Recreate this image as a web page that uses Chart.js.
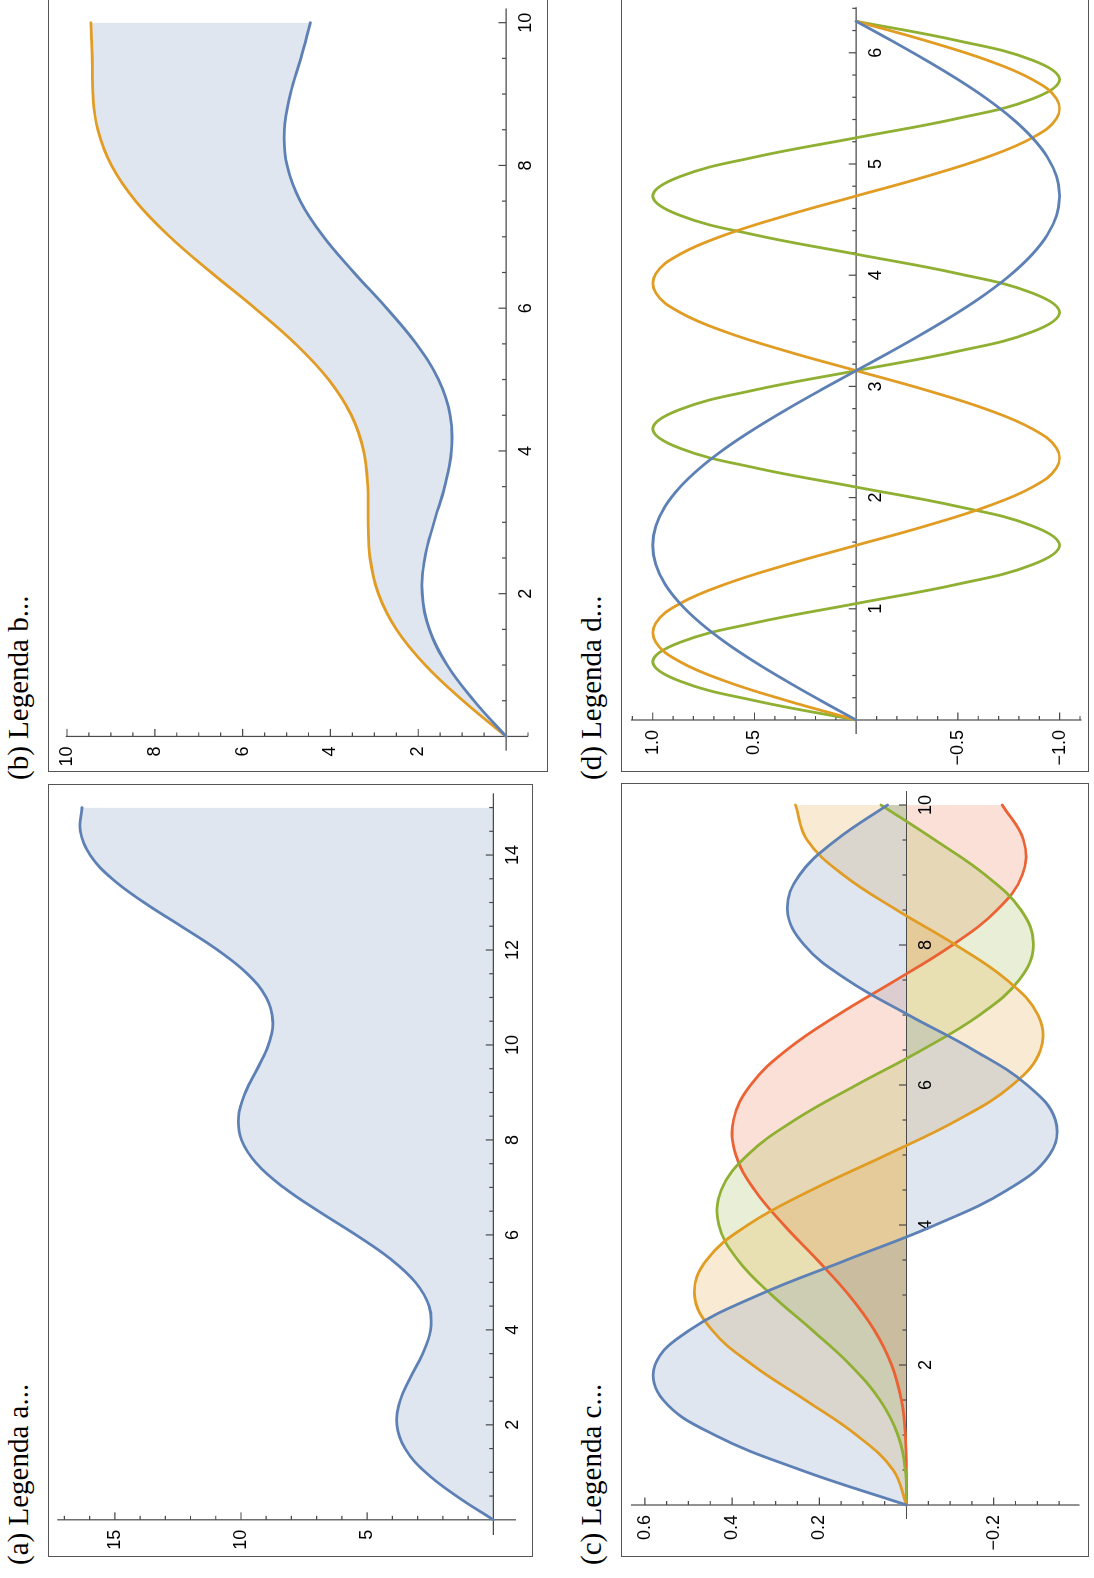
<!DOCTYPE html>
<html>
<head>
<meta charset="utf-8">
<script src="https://cdn.jsdelivr.net/npm/chart.js@4"></script>
<style>
html,body{margin:0;padding:0;background:#fff;overflow:hidden;width:1094px;height:1578px;}
#page{position:absolute;left:0;top:0;width:1578px;height:1094px;transform-origin:0 0;transform:translate(0,1578px) rotate(-90deg);background:#fff;overflow:hidden;}
.panel{position:absolute;}
.panel canvas{position:absolute;left:0;top:0;}
.frame{position:absolute;left:0;top:0;width:100%;height:100%;border:1.5px solid #555;box-sizing:border-box;pointer-events:none;}
.cap{position:absolute;font-family:"Liberation Serif","Times New Roman",serif;font-size:29px;line-height:29px;white-space:nowrap;color:#000;}
</style>
</head>
<body>
<div id="page">
  <div class="cap" style="left:13px;top:4px">(a) Legenda a...</div>
  <div class="cap" style="left:798px;top:4px">(b) Legenda b...</div>
  <div class="cap" style="left:13px;top:577px">(c) Legenda c...</div>
  <div class="cap" style="left:798px;top:577px">(d) Legenda d...</div>
  <div class="panel" style="left:21px;top:48px;width:773px;height:485px"><canvas id="ca" width="773" height="485"></canvas><div class="frame"></div></div>
  <div class="panel" style="left:806px;top:48px;width:774px;height:500px"><canvas id="cb" width="774" height="500"></canvas><div class="frame"></div></div>
  <div class="panel" style="left:21px;top:621px;width:774px;height:468px"><canvas id="cc" width="774" height="468"></canvas><div class="frame"></div></div>
  <div class="panel" style="left:806px;top:621px;width:774px;height:468px"><canvas id="cd" width="774" height="468"></canvas><div class="frame"></div></div>
</div>
<script>
// ---------------- data ----------------
// (a)
const A_x = [0,0.5,1,1.5,2,2.5,3,3.5,4,4.5,5,5.5,6,6.5,7,7.5,8,8.5,9,9.5,10,10.5,11,11.5,12,12.5,13,13.5,14,14.5,15];
const A_y = [0,1.459,2.683,3.495,3.819,3.697,3.282,2.798,2.486,2.545,3.082,4.089,5.441,6.930,8.314,9.376,9.979,10.097,9.824,9.350,8.912,8.741,9.000,9.749,10.927,12.367,13.840,15.108,15.981,16.370,16.301];
const A_xTicks = [2,4,6,8,10,12,14];
const A_xLabels = ['2','4','6','8','10','12','14'];
const A_yTicks = [5,10,15];
const A_yLabels = ['5','10','15'];

// (b)
const B_x = [0,0.5,1,1.5,2,2.5,3,3.5,4,4.5,5,5.5,6,6.5,7,7.5,8,8.5,9,9.5,10];
const B_lower = [0,0.729,1.342,1.748,1.909,1.849,1.641,1.399,1.243,1.273,1.541,2.045,2.721,3.465,4.157,4.688,4.989,5.049,4.912,4.675,4.456];
const B_upper = [0,0.979,1.841,2.498,2.909,3.099,3.141,3.149,3.243,3.523,4.041,4.795,5.721,6.715,7.657,8.438,8.989,9.299,9.412,9.425,9.456];
const B_xTicks = [2,4,6,8,10];
const B_xLabels = ['2','4','6','8','10'];
const B_yTicks = [2,4,6,8,10];
const B_yLabels = ['2','4','6','8','10'];

// (c)
const C_x = [0,0.5,1,1.5,2,2.5,3,3.5,4,4.5,5,5.5,6,6.5,7,7.5,8,8.5,9,9.5,10];
const C_s1 = [0,0.2423,0.4401,0.5579,0.5767,0.4971,0.3391,0.1374,-0.0660,-0.2311,-0.3276,-0.3414,-0.2767,-0.1538,-0.0047,0.1352,0.2346,0.2731,0.2453,0.1613,0.0435];
const C_s2 = [0,0.0306,0.1149,0.2321,0.3528,0.4461,0.4861,0.4586,0.3641,0.2178,0.0466,-0.1173,-0.2429,-0.3074,-0.3014,-0.2303,-0.1130,0.0223,0.1448,0.2279,0.2546];
const C_s3 = [0,0.0026,0.0196,0.0610,0.1289,0.2166,0.3091,0.3868,0.4302,0.4247,0.3648,0.2561,0.1148,-0.0353,-0.1676,-0.2581,-0.2911,-0.2626,-0.1809,-0.0652,0.0584];
const C_s4 = [0,0.0002,0.0025,0.0118,0.0340,0.0738,0.1320,0.2044,0.2811,0.3484,0.3912,0.3967,0.3576,0.2748,0.1578,0.0238,-0.1054,-0.2077,-0.2655,-0.2683,-0.2196];
const C_xTicks = [2,4,6,8,10];
const C_xLabels = ['2','4','6','8','10'];
const C_yTicks = [-0.2,0.2,0.4,0.6];
const C_yLabels = ['\u22120.2','0.2','0.4','0.6'];

// (d)
const D_x = [0,0.1745,0.3491,0.5236,0.6981,0.8727,1.0472,1.2217,1.3963,1.5708,1.7453,1.9199,2.0944,2.2689,2.4435,2.6180,2.7925,2.9671,3.1416,3.3161,3.4907,3.6652,3.8397,4.0143,4.1888,4.3633,4.5379,4.7124,4.8869,5.0615,5.2360,5.4105,5.5851,5.7596,5.9341,6.1087,6.2832];
const D_s1 = [0,.174,.342,.5,.643,.766,.866,.940,.985,1,.985,.940,.866,.766,.643,.5,.342,.174,0,-.174,-.342,-.5,-.643,-.766,-.866,-.940,-.985,-1,-.985,-.940,-.866,-.766,-.643,-.5,-.342,-.174,0];
const D_s2 = [0,.342,.643,.866,.985,.985,.866,.643,.342,0,-.342,-.643,-.866,-.985,-.985,-.866,-.643,-.342,0,.342,.643,.866,.985,.985,.866,.643,.342,0,-.342,-.643,-.866,-.985,-.985,-.866,-.643,-.342,0];
const D_s3 = [0,.5,.866,1,.866,.5,0,-.5,-.866,-1,-.866,-.5,0,.5,.866,1,.866,.5,0,-.5,-.866,-1,-.866,-.5,0,.5,.866,1,.866,.5,0,-.5,-.866,-1,-.866,-.5,0];
const D_xTicks = [1,2,3,4,5,6];
const D_xLabels = ['1','2','3','4','5','6'];
const D_yTicks = [-1.0,-0.5,0.5,1.0];
const D_yLabels = ['\u22121.0','\u22120.5','0.5','1.0'];

// ---------------- style ----------------
const BLUE = '#5E81B5', ORANGE = '#E19C24', GREEN = '#8FB032', RED = '#EB6235';
const BLUE_F = 'rgba(94,129,181,0.2)', ORANGE_F = 'rgba(225,156,36,0.2)', GREEN_F = 'rgba(143,176,50,0.2)', RED_F = 'rgba(235,98,53,0.2)';
const AXIS_COLOR = '#4a4a4a';
const TICK_FONT = '18px "Liberation Sans", Arial, sans-serif';
const MAJOR_LEN = 7.5, MINOR_LEN = 4;
const X_LABEL_GAP = 10.5, Y_LABEL_GAP = 10;

function pts(xs, ys){ return xs.map((x,i)=>({x:x, y:ys[i]})); }

function minorList(min, max, step, majors){
  const out = [];
  const s = Math.ceil((min - 1e-9)/step), e = Math.floor((max + 1e-9)/step);
  for (let k = s; k <= e; k++){
    const v = +(k*step).toFixed(6);
    if (Math.abs(v) < 1e-9) continue;
    if (majors.some(m => Math.abs(m - v) < 1e-9)) continue;
    out.push(v);
  }
  return out;
}

const mmaAxes = {
  id: 'mmaAxes',
  beforeDatasetsDraw(chart){
    const o = chart.options.plugins.mmaAxes;
    const ctx = chart.ctx, ca = chart.chartArea;
    const xs = chart.scales.x, ys = chart.scales.y;
    const x0 = xs.getPixelForValue(0), y0 = ys.getPixelForValue(0);
    ctx.save();
    ctx.strokeStyle = AXIS_COLOR;
    ctx.lineWidth = 1.2;
    ctx.beginPath();
    ctx.moveTo(ca.left, y0); ctx.lineTo(ca.right, y0);
    ctx.moveTo(x0, ca.top); ctx.lineTo(x0, ca.bottom);
    o.xTicks.forEach(v => { const p = xs.getPixelForValue(v); ctx.moveTo(p, y0); ctx.lineTo(p, y0 - MAJOR_LEN); });
    minorList(xs.min, xs.max, o.xMinor, o.xTicks).forEach(v => { const p = xs.getPixelForValue(v); ctx.moveTo(p, y0); ctx.lineTo(p, y0 - MINOR_LEN); });
    o.yTicks.forEach(v => { const p = ys.getPixelForValue(v); ctx.moveTo(x0, p); ctx.lineTo(x0 + MAJOR_LEN, p); });
    minorList(ys.min, ys.max, o.yMinor, o.yTicks).forEach(v => { const p = ys.getPixelForValue(v); ctx.moveTo(x0, p); ctx.lineTo(x0 + MINOR_LEN, p); });
    ctx.stroke();
    ctx.fillStyle = '#000';
    ctx.font = TICK_FONT;
    ctx.textAlign = 'center'; ctx.textBaseline = 'top';
    o.xTicks.forEach((v,i) => ctx.fillText(o.xLabels[i], xs.getPixelForValue(v), y0 + X_LABEL_GAP));
    ctx.textAlign = 'right'; ctx.textBaseline = 'middle';
    o.yTicks.forEach((v,i) => ctx.fillText(o.yLabels[i], x0 - Y_LABEL_GAP, ys.getPixelForValue(v)));
    ctx.restore();
  }
};

function makeChart(id, datasets, xr, yr, pad, axes){
  return new Chart(document.getElementById(id), {
    type: 'line',
    data: { datasets: datasets },
    options: {
      responsive: false, maintainAspectRatio: false, animation: false,
      devicePixelRatio: 1,
      layout: { padding: pad },
      elements: {
        point: { radius: 0, hoverRadius: 0 },
        line: { tension: 0.4, borderWidth: 2.8, borderCapStyle: 'round', borderJoinStyle: 'round' }
      },
      plugins: {
        legend: { display: false },
        tooltip: { enabled: false },
        filler: { drawTime: 'beforeDatasetsDraw', propagate: false },
        mmaAxes: axes
      },
      scales: {
        x: { type: 'linear', min: xr[0], max: xr[1], display: false },
        y: { type: 'linear', min: yr[0], max: yr[1], display: false }
      }
    },
    plugins: [mmaAxes]
  });
}

// (a)
makeChart('ca', [
  { data: pts(A_x, A_y), borderColor: BLUE, backgroundColor: BLUE_F, fill: 'origin' }
], [-0.32, 15.3], [-0.9, 17.28], { left: 22, right: 9.3, top: 9.3, bottom: 17 },
{ xTicks: A_xTicks, xLabels: A_xLabels, yTicks: A_yTicks, yLabels: A_yLabels, xMinor: 0.5, yMinor: 1 });

// (b)
makeChart('cb', [
  { data: pts(B_x, B_lower), borderColor: BLUE, backgroundColor: BLUE_F, fill: '+1' },
  { data: pts(B_x, B_upper), borderColor: ORANGE, backgroundColor: 'rgba(0,0,0,0)', fill: false }
], [-0.2, 10.2], [-0.5, 10.03], { left: 21.3, right: 10.4, top: 17.7, bottom: 20 },
{ xTicks: B_xTicks, xLabels: B_xLabels, yTicks: B_yTicks, yLabels: B_yLabels, xMinor: 0.5, yMinor: 0.5 });

// (c)
makeChart('cc', [
  { data: pts(C_x, C_s1), borderColor: BLUE, backgroundColor: BLUE_F, fill: 'origin' },
  { data: pts(C_x, C_s2), borderColor: ORANGE, backgroundColor: ORANGE_F, fill: 'origin' },
  { data: pts(C_x, C_s3), borderColor: GREEN, backgroundColor: GREEN_F, fill: 'origin' },
  { data: pts(C_x, C_s4), borderColor: RED, backgroundColor: RED_F, fill: 'origin' }
], [-0.2, 10.2], [-0.397, 0.632], { left: 38, right: 8, top: 9.9, bottom: 9.4 },
{ xTicks: C_xTicks, xLabels: C_xLabels, yTicks: C_yTicks, yLabels: C_yLabels, xMinor: 0.5, yMinor: 0.05 });

// (d)
makeChart('cd', [
  { data: pts(D_x, D_s1), borderColor: BLUE, fill: false },
  { data: pts(D_x, D_s2), borderColor: ORANGE, fill: false },
  { data: pts(D_x, D_s3), borderColor: GREEN, fill: false }
], [-0.126, 6.41], [-1.107, 1.107], { left: 38, right: 9.2, top: 10, bottom: 7.6 },
{ xTicks: D_xTicks, xLabels: D_xLabels, yTicks: D_yTicks, yLabels: D_yLabels, xMinor: 0.2, yMinor: 0.1 });
</script>
</body>
</html>
